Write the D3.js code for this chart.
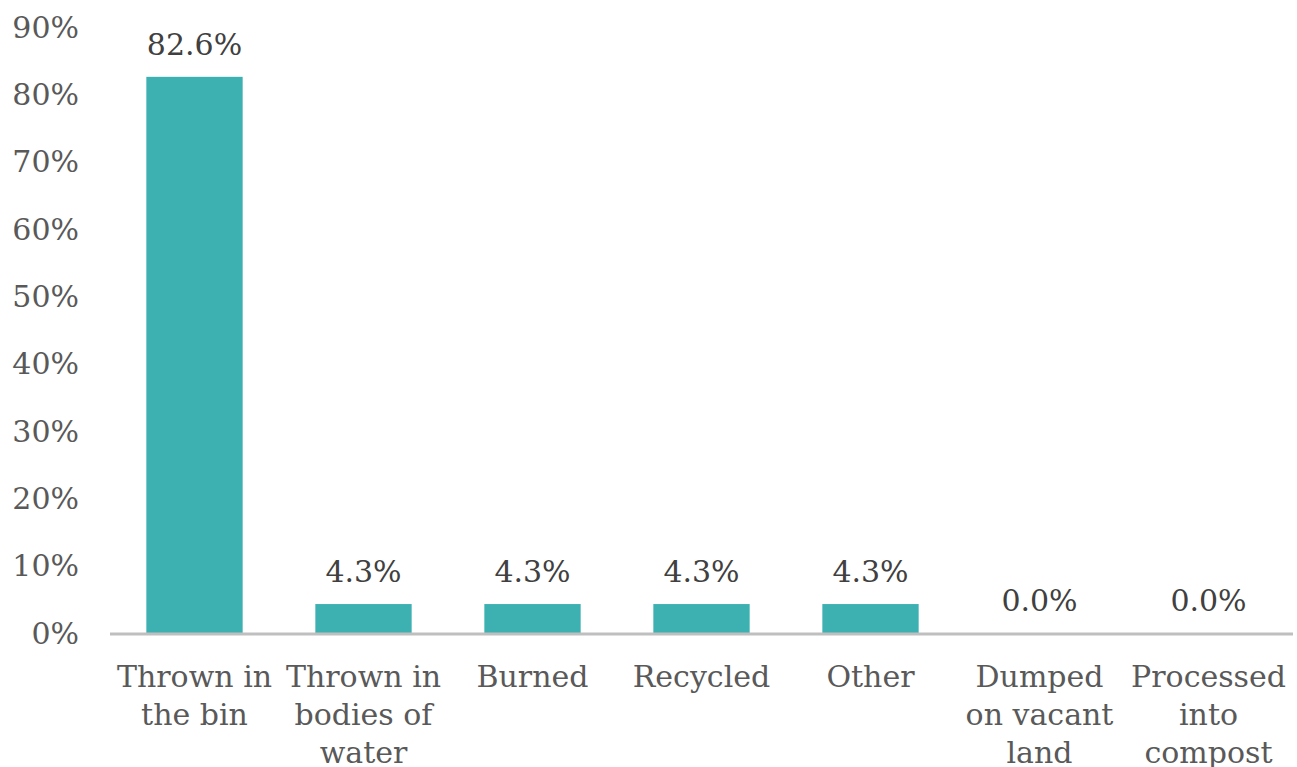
<!DOCTYPE html>
<html>
<head>
<meta charset="utf-8">
<script src="https://cdn.jsdelivr.net/npm/d3@7"></script>
<style>
  html, body { margin: 0; padding: 0; background: #ffffff; }
  svg { display: block; font-family: "DejaVu Serif", serif; }
</style>
</head>
<body>
<svg id="chart"></svg>
<script>
// ─── Data ─────────────────────────────────────────────────────────────────────
const categories = [
  'Thrown in\nthe bin',
  'Thrown in\nbodies of\nwater',
  'Burned',
  'Recycled',
  'Other',
  'Dumped\non vacant\nland',
  'Processed\ninto\ncompost'
];
const values   = [82.6, 4.3, 4.3, 4.3, 4.3, 0.0, 0.0];
const yTicks   = [0, 10, 20, 30, 40, 50, 60, 70, 80, 90];

const W = 1297, H = 767;
const M = { top: 27, right: 4, bottom: 134, left: 110 };
const IW = W - M.left - M.right;
const IH = H - M.top - M.bottom;

const x = d3.scaleBand().domain(d3.range(categories.length)).range([0, IW])
  .paddingInner(0.43).paddingOuter(0.215);
const y = d3.scaleLinear().domain([0, 90]).range([IH, 0]);

const svg = d3.select('#chart').attr('width', W).attr('height', H);
const g = svg.append('g').attr('transform', `translate(${M.left},${M.top})`);

// ── Y tick labels ─────────────────────────────────────────────────────────────
g.selectAll('.ytick').data(yTicks).enter().append('text')
  .attr('class', 'ytick')
  .attr('x', -31).attr('y', d => y(d)).attr('dy', '0.36em')
  .attr('text-anchor', 'end').attr('font-size', 30).attr('fill', '#595959')
  .text(d => d + '%');

// ── Bars ──────────────────────────────────────────────────────────────────────
g.selectAll('.bar').data(values).enter().append('rect')
  .attr('class', 'bar')
  .attr('x', (d, i) => x(i)).attr('width', x.bandwidth())
  .attr('y', d => y(d)).attr('height', d => IH - y(d))
  .attr('fill', '#3db1b2');

// ── Axis line ─────────────────────────────────────────────────────────────────
g.append('line')
  .attr('x1', 0).attr('x2', IW).attr('y1', IH + 1).attr('y2', IH + 1)
  .attr('stroke', '#bfbfbf').attr('stroke-width', 3);

// ── Value labels ──────────────────────────────────────────────────────────────
g.selectAll('.val').data(values).enter().append('text')
  .attr('class', 'val')
  .attr('x', (d, i) => x(i) + x.bandwidth() / 2)
  .attr('y', d => y(d) - 22)
  .attr('text-anchor', 'middle').attr('font-size', 30).attr('fill', '#404040')
  .text(d => d.toFixed(1) + '%');

// ── Category labels ───────────────────────────────────────────────────────────
const cats = g.selectAll('.cat').data(categories).enter().append('text')
  .attr('class', 'cat')
  .attr('text-anchor', 'middle').attr('font-size', 30).attr('fill', '#595959')
  .attr('transform', (d, i) => `translate(${x(i) + x.bandwidth() / 2},${IH + 54})`);

cats.selectAll('tspan').data(d => d.split('\n')).enter().append('tspan')
  .attr('x', 0).attr('y', (d, i) => i * 38)
  .text(d => d);
</script>
</body>
</html>
